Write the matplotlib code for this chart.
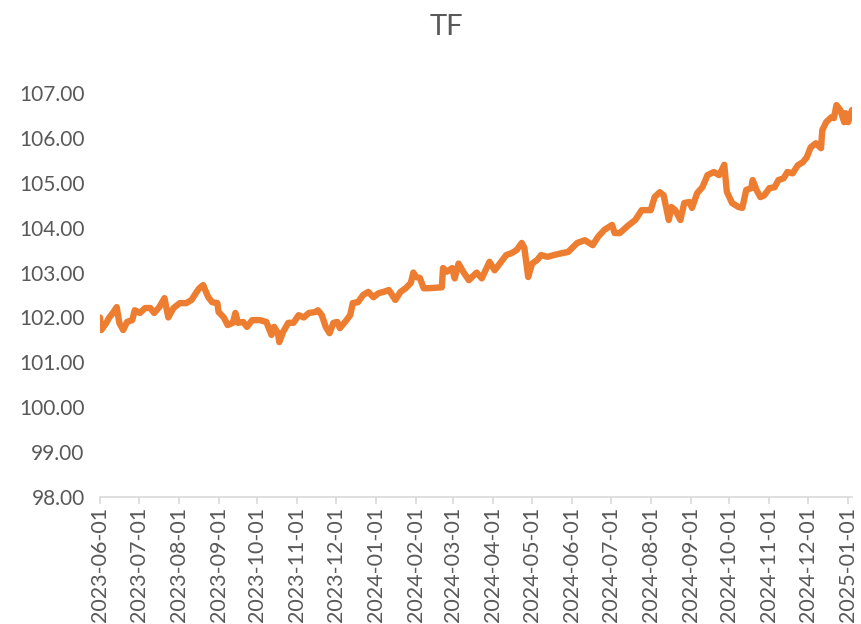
import pandas as pd
import matplotlib
matplotlib.use("Agg")
import matplotlib.pyplot as plt
import matplotlib.dates as mdates

# values (TF futures price)
dates = [
    "2023-06-01", "2023-06-02", "2023-06-06", "2023-06-08", "2023-06-11", "2023-06-14",
    "2023-06-16", "2023-06-19", "2023-06-22", "2023-06-26", "2023-06-28", "2023-07-02",
    "2023-07-06", "2023-07-10", "2023-07-13", "2023-07-17", "2023-07-21", "2023-07-24",
    "2023-07-28", "2023-08-02", "2023-08-07", "2023-08-11", "2023-08-15", "2023-08-17",
    "2023-08-20", "2023-08-21", "2023-08-24", "2023-08-27", "2023-08-31", "2023-09-01",
    "2023-09-05", "2023-09-08", "2023-09-12", "2023-09-14", "2023-09-16", "2023-09-20",
    "2023-09-23", "2023-09-27", "2023-10-03", "2023-10-08", "2023-10-12", "2023-10-14",
    "2023-10-17", "2023-10-18", "2023-10-21", "2023-10-25", "2023-10-29", "2023-11-02",
    "2023-11-06", "2023-11-10", "2023-11-15", "2023-11-17", "2023-11-20", "2023-11-23",
    "2023-11-26", "2023-11-29", "2023-12-02", "2023-12-04", "2023-12-08", "2023-12-12",
    "2023-12-14", "2023-12-18", "2023-12-22", "2023-12-26", "2023-12-30", "2024-01-03",
    "2024-01-07", "2024-01-11", "2024-01-16", "2024-01-20", "2024-01-24", "2024-01-28",
    "2024-01-30", "2024-02-01", "2024-02-04", "2024-02-07", "2024-02-10", "2024-02-16",
    "2024-02-21", "2024-02-22", "2024-02-25", "2024-02-29", "2024-03-02", "2024-03-05",
    "2024-03-09", "2024-03-13", "2024-03-19", "2024-03-23", "2024-03-29", "2024-04-02",
    "2024-04-06", "2024-04-11", "2024-04-15", "2024-04-19", "2024-04-23", "2024-04-25",
    "2024-04-28", "2024-05-01", "2024-05-05", "2024-05-08", "2024-05-13", "2024-05-18",
    "2024-05-24", "2024-05-29", "2024-06-05", "2024-06-11", "2024-06-17", "2024-06-21",
    "2024-06-26", "2024-07-02", "2024-07-04", "2024-07-08", "2024-07-15", "2024-07-20",
    "2024-07-25", "2024-08-01", "2024-08-04", "2024-08-08", "2024-08-11", "2024-08-15",
    "2024-08-17", "2024-08-20", "2024-08-24", "2024-08-27", "2024-08-31", "2024-09-02",
    "2024-09-06", "2024-09-10", "2024-09-14", "2024-09-19", "2024-09-23", "2024-09-25",
    "2024-09-27", "2024-09-29", "2024-10-03", "2024-10-08", "2024-10-11", "2024-10-14",
    "2024-10-18", "2024-10-19", "2024-10-22", "2024-10-25", "2024-10-28", "2024-11-01",
    "2024-11-05", "2024-11-08", "2024-11-12", "2024-11-15", "2024-11-19", "2024-11-23",
    "2024-11-27", "2024-11-30", "2024-12-03", "2024-12-07", "2024-12-11", "2024-12-12",
    "2024-12-15", "2024-12-19", "2024-12-21", "2024-12-23", "2024-12-26", "2024-12-29",
    "2024-12-30", "2025-01-01", "2025-01-04",
]
prices = [
    102.00, 101.72, 101.88, 101.99, 102.10, 102.23,
    101.88, 101.72, 101.90, 101.94, 102.16, 102.10,
    102.21, 102.21, 102.10, 102.23, 102.43, 102.00,
    102.21, 102.32, 102.32, 102.39, 102.57, 102.65,
    102.72, 102.65, 102.45, 102.34, 102.32, 102.12,
    102.00, 101.83, 101.88, 102.10, 101.88, 101.90,
    101.79, 101.94, 101.94, 101.90, 101.61, 101.79,
    101.65, 101.45, 101.68, 101.88, 101.88, 102.05,
    102.00, 102.10, 102.12, 102.16, 102.05, 101.79,
    101.65, 101.88, 101.90, 101.76, 101.90, 102.05,
    102.32, 102.34, 102.50, 102.57, 102.45, 102.54,
    102.57, 102.61, 102.39, 102.57, 102.65, 102.77,
    103.00, 102.90, 102.88, 102.65, 102.65, 102.66,
    102.67, 103.10, 103.02, 103.10, 102.87, 103.20,
    103.00, 102.83, 103.00, 102.87, 103.24, 103.05,
    103.20, 103.39, 103.43, 103.50, 103.66, 103.55,
    102.90, 103.20, 103.28, 103.39, 103.35, 103.39,
    103.43, 103.46, 103.66, 103.72, 103.61, 103.79,
    103.95, 104.06, 103.88, 103.88, 104.06, 104.17,
    104.39, 104.39, 104.68, 104.79, 104.72, 104.17,
    104.46, 104.39, 104.17, 104.55, 104.57, 104.44,
    104.77, 104.90, 105.17, 105.24, 105.17, 105.28,
    105.40, 104.80, 104.55, 104.46, 104.44, 104.84,
    104.88, 105.06, 104.84, 104.68, 104.72, 104.88,
    104.90, 105.06, 105.10, 105.24, 105.21, 105.39,
    105.46, 105.57, 105.79, 105.88, 105.77, 106.17,
    106.35, 106.46, 106.44, 106.73, 106.62, 106.35,
    106.55, 106.35, 106.62,
]
y_ticks = [98, 99, 100, 101, 102, 103, 104, 105, 106, 107]

df = pd.DataFrame({"date": pd.to_datetime(dates), "price": prices})

plt.rcParams['font.family'] = ['Lato', 'DejaVu Sans']
text_color = '#595959'

fig = plt.figure(figsize=(8.61, 6.24), dpi=100)
ax = fig.add_axes([0.1161, 0.2035, 0.8734, 0.6475])

ax.plot(df['date'], df['price'], color='#ED7D31', linewidth=4.6,
        solid_joinstyle='round', solid_capstyle='round')

# chart title sits centred over the whole chart area, not the plot area
fig.text(0.519, 0.957, "TF", fontsize=21, color=text_color, ha='center', va='center')

ax.set_ylim(98, 107)
ax.set_yticks(y_ticks)
ax.yaxis.set_major_formatter(matplotlib.ticker.FormatStrFormatter('%.2f'))
ax.set_xlim(df['date'].min(), df['date'].max())
ax.xaxis.set_major_locator(mdates.MonthLocator())
ax.xaxis.set_major_formatter(mdates.DateFormatter('%Y-%m-%d'))

for side in ['top', 'right', 'left']:
    ax.spines[side].set_visible(False)
ax.spines['bottom'].set_color('#D9D9D9')
ax.spines['bottom'].set_linewidth(1.2)

ax.tick_params(axis='y', length=0, pad=11, labelsize=15, labelcolor=text_color)
ax.tick_params(axis='x', length=5, width=1.2, color='#D9D9D9', pad=2,
               labelsize=15.5, labelcolor=text_color, labelrotation=90)

plt.savefig('out.png', dpi=100)
